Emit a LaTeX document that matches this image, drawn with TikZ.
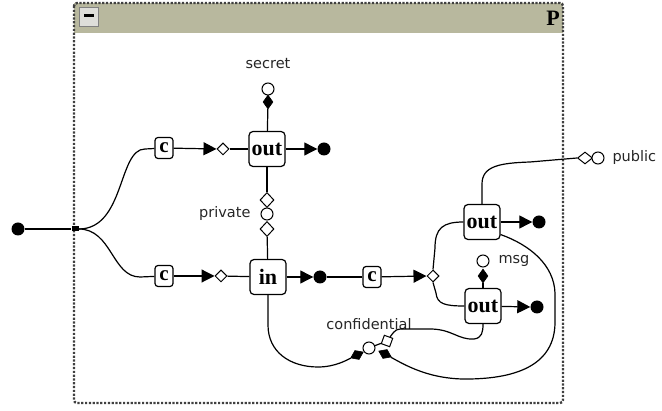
\documentclass[tikz,border=0pt]{standalone}
\usepackage{fontspec}
\setmainfont{Liberation Serif}
\newfontfamily\labelfont{DejaVu Sans}
\usetikzlibrary{shapes.geometric,arrows.meta}
\definecolor{titlebar}{RGB}{184,184,158}
\definecolor{btnface}{RGB}{222,222,218}

\begin{document}
\begin{tikzpicture}[x=1pt,y=-1pt,
  proc/.style={draw, line width=1.2pt, rounded corners=4pt, fill=white,
    minimum width=36pt, minimum height=35pt, inner sep=0pt,
    font=\fontsize{22}{22}\selectfont\bfseries},
  cbox/.style={draw, line width=1.2pt, rounded corners=3pt, fill=white,
    minimum width=18pt, minimum height=21pt, inner sep=0pt,
    font=\fontsize{21}{21}\selectfont\bfseries},
  wdia/.style={diamond, draw, fill=white, line width=1pt,
    minimum width=12pt, minimum height=12pt, inner sep=0pt},
  bdia/.style={diamond, draw, fill=black, line width=0.6pt,
    minimum width=10pt, minimum height=14pt, inner sep=0pt},
  port/.style={circle, draw, fill=white, line width=1pt,
    minimum size=12pt, inner sep=0pt},
  blob/.style={circle, fill=black, minimum size=13pt, inner sep=0pt},
  lab/.style={font=\labelfont\fontsize{14.5}{14.5}\selectfont, text=black!85},
  wire/.style={line width=1.2pt},
  arrowwire/.style={wire, -{Triangle[length=13pt,width=13pt]}},
]
\useasboundingbox (0,0) rectangle (662,411);

% container with its title bar
\fill[titlebar] (74,3) rectangle (563,33);
\draw[line width=2.4pt, dash pattern=on 2.2pt off 1.6pt, rounded corners=3pt, black!75]
  (74,3) rectangle (563,403);
\node[draw=gray, line width=0.8pt, fill=btnface, minimum width=19pt, minimum height=19pt,
  inner sep=0pt] (btn) at (89,17) {\rule[2.5pt]{10pt}{3pt}};
\node[font=\fontsize{22}{22}\selectfont\bfseries] (ptitle) at (553,18) {P};

% nodes
\node[blob] (src) at (18,229) {};
\node[fill=black, minimum width=7pt, minimum height=5pt, inner sep=0pt] (jn) at (75,229) {};

\node[cbox] (c1) at (164,148) {c};
\node[wdia] (d1) at (223,149) {};
\node[proc] (o1) at (267,149) {out};
\node[blob] (e1) at (324,149) {};
\node[bdia] (sb) at (268,102) {};
\node[port] (sp) at (268,89) {};
\node[lab] (slab) at (268,64) {secret};

\node[wdia, minimum width=14pt, minimum height=15pt] (pd1) at (267,200) {};
\node[port] (pp) at (267,214) {};
\node[wdia, minimum width=14pt, minimum height=15pt] (pd2) at (267,229) {};
\node[lab, anchor=east] (plab) at (254,214) {private};

\node[cbox] (c2) at (164,276) {c};
\node[wdia] (d2) at (221,276) {};
\node[proc] (i1) at (268,277) {in};
\node[blob] (e2) at (320,277) {};
\node[cbox] (c3) at (372,277) {c};
\node[wdia] (d3) at (433,276) {};

\node[proc] (o2) at (482,222) {out};
\node[blob] (e3) at (539,222) {};
\node[wdia, minimum width=15pt] (pubd) at (585,158) {};
\node[port] (pubp) at (598,158) {};
\node[lab, anchor=west] (publab) at (609,158) {public};

\node[proc] (o3) at (483,306) {out};
\node[blob] (e4) at (537,307) {};
\node[port] (mp) at (483,261) {};
\node[bdia] (mb) at (483,276) {};
\node[lab, anchor=west] (mlab) at (495,261) {msg};

\node[port] (cp) at (369,348) {};
\node[bdia, rotate=-65] (cb1) at (357,355) {};
\node[bdia, rotate=65] (cb2) at (385,354) {};
\node[wdia, minimum size=13pt, rotate=25] (cw) at (387,341) {};
\node[lab] (clab) at (369,324) {confidential};

% connectors
\draw[wire] (src) -- (jn);
\draw[wire] (jn.east) .. controls (125,229) and (118,149) .. (145,149) -- (c1);
\draw[wire] (jn.east) .. controls (112,229) and (112,277) .. (140,277) -- (c2);

\draw[arrowwire] (c1) -- (d1.west);
\draw[wire] (d1) -- (o1);
\draw[arrowwire] (o1) -- (e1.west);
\draw[wire] (o1) -- (sb);
\draw[wire] (o1) -- (pd1);
\draw[wire] (pd2) -- (i1);

\draw[arrowwire] (c2) -- (d2.west);
\draw[wire] (d2) -- (i1);
\draw[arrowwire] (i1) -- (e2.west);
\draw[wire] (e2) -- (c3);
\draw[arrowwire] (c3) -- (d3.west);

\draw[wire] (d3.north) -- (435,248) .. controls (435,228) and (443,222) .. (o2.west);
\draw[wire] (d3.south) -- (436,293) .. controls (437,304) and (445,306) .. (o3.west);
\draw[arrowwire] (o2) -- (e3.west);
\draw[arrowwire] (o3) -- (e4.west);
\draw[wire] (o3) -- (mb);
\draw[wire] (o2.north) -- (482,184) .. controls (482,166) and (500,163) .. (530,162) -- (pubd.west);

\draw[wire] (i1.south) -- (268,325) .. controls (268,352) and (290,367) .. (318,367)
  .. controls (335,367) and (347,360) .. (cb1);
\draw[wire] (cb2) .. controls (405,365) and (430,380) .. (470,379)
  .. controls (525,378) and (556,360) .. (555,320) -- (555,293)
  .. controls (554,265) and (530,245) .. (o2.-34);
\draw[wire] (cp) -- (cw);
\draw[wire] (cw) .. controls (396,329) .. (405,329) -- (430,329)
  .. controls (452,329) and (458,340) .. (474,339)
  .. controls (482,338) and (483,332) .. (o3.south);
\end{tikzpicture}
\end{document}
